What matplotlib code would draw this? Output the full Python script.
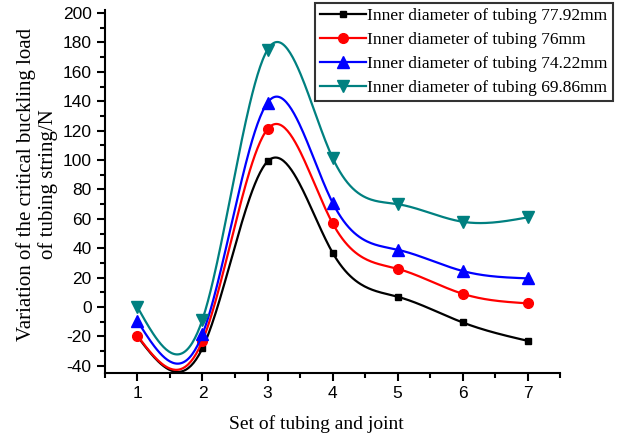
import matplotlib
matplotlib.use('Agg')
import matplotlib.pyplot as plt
import numpy as np
from matplotlib.ticker import MultipleLocator

plt.rcParams['axes.unicode_minus'] = False

# set of tubing and joint
sets = [1, 2, 3, 4, 5, 6, 7]
load_7792 = [-20, -28, 99, 37, 7, -10.5, -23]
load_76 = [-19.5, -23, 121, 57, 26, 9, 2.5]
load_7422 = [-9.5, -18.5, 139, 71, 39, 24.5, 19.5]
load_6986 = [0, -8.5, 175, 101.5, 70, 58, 61]
labels = ['Inner diameter of tubing 77.92mm', 'Inner diameter of tubing 76mm',
          'Inner diameter of tubing 74.22mm', 'Inner diameter of tubing 69.86mm']


def natural_spline(x, y, n=300):
    # cubic spline through the points, the way the original plot connects them
    x = np.asarray(x, float)
    y = np.asarray(y, float)
    k = len(x)
    h = np.diff(x)
    A = np.zeros((k, k))
    b = np.zeros(k)
    A[0, 0] = A[-1, -1] = 1
    for i in range(1, k - 1):
        A[i, i - 1] = h[i - 1]
        A[i, i] = 2 * (h[i - 1] + h[i])
        A[i, i + 1] = h[i]
        b[i] = 6 * ((y[i + 1] - y[i]) / h[i] - (y[i] - y[i - 1]) / h[i - 1])
    m = np.linalg.solve(A, b)
    xs = np.linspace(x[0], x[-1], n)
    j = np.clip(np.searchsorted(x, xs) - 1, 0, k - 2)
    t = xs - x[j]
    hj = h[j]
    ys = (m[j] * (x[j + 1] - xs) ** 3 / (6 * hj) + m[j + 1] * t ** 3 / (6 * hj)
          + (y[j] / hj - m[j] * hj / 6) * (x[j + 1] - xs)
          + (y[j + 1] / hj - m[j + 1] * hj / 6) * t)
    return xs, ys


fig = plt.figure(figsize=(6.17, 4.38), dpi=100)
ax = fig.add_axes([0.170, 0.148, 0.738, 0.829])

series = [load_7792, load_76, load_7422, load_6986]
colors = ['black', '#ff0000', '#0000ff', '#008080']
markers = ['s', 'o', '^', 'v']
msizes = [5, 7, 8, 8]
for s, c, mk, ms, lab in zip(series, colors, markers, msizes, labels):
    xs, ys = natural_spline(sets, s)
    ax.plot(xs, ys, color=c, lw=1.6)
    ax.plot(sets, s, ls='none', marker=mk, color=c, ms=ms)
    ax.plot([], [], color=c, lw=1.6, marker=mk, ms=ms, label=lab)

ax.set_xlim(0.5, 7.5)
ax.set_ylim(-45, 202)
ax.xaxis.set_major_locator(MultipleLocator(1))
ax.xaxis.set_minor_locator(MultipleLocator(0.5))
ax.yaxis.set_major_locator(MultipleLocator(20))
ax.yaxis.set_minor_locator(MultipleLocator(10))
ax.tick_params(which='major', direction='out', length=6, width=1.5,
               labelsize=12.5)
ax.tick_params(which='minor', direction='out', length=3.5, width=1.5)
for lbl in ax.get_xticklabels() + ax.get_yticklabels():
    lbl.set_fontfamily('Liberation Sans')
for sp in ['top', 'right']:
    ax.spines[sp].set_visible(False)
for sp in ['left', 'bottom']:
    ax.spines[sp].set_linewidth(1.5)

ax.set_xlabel('Set of tubing and joint', family='Liberation Serif', fontsize=14)
ax.set_ylabel('Variation of the critical buckling load\nof tubing string/N',
              family='Liberation Serif', fontsize=15, linespacing=1.1)
ax.xaxis.set_label_coords(0.465, -0.115)
ax.yaxis.set_label_coords(-0.104, 0.52)

leg = ax.legend(loc='upper left', bbox_to_anchor=(0.462, 1.02), frameon=True,
                fancybox=False, prop={'family': 'Liberation Serif', 'size': 12.5},
                handlelength=2.6, handletextpad=0.1, borderpad=0.3,
                labelspacing=0.45, borderaxespad=0)
leg.get_frame().set_edgecolor('black')
leg.get_frame().set_linewidth(1.5)

fig.savefig('out.png', dpi=100)
